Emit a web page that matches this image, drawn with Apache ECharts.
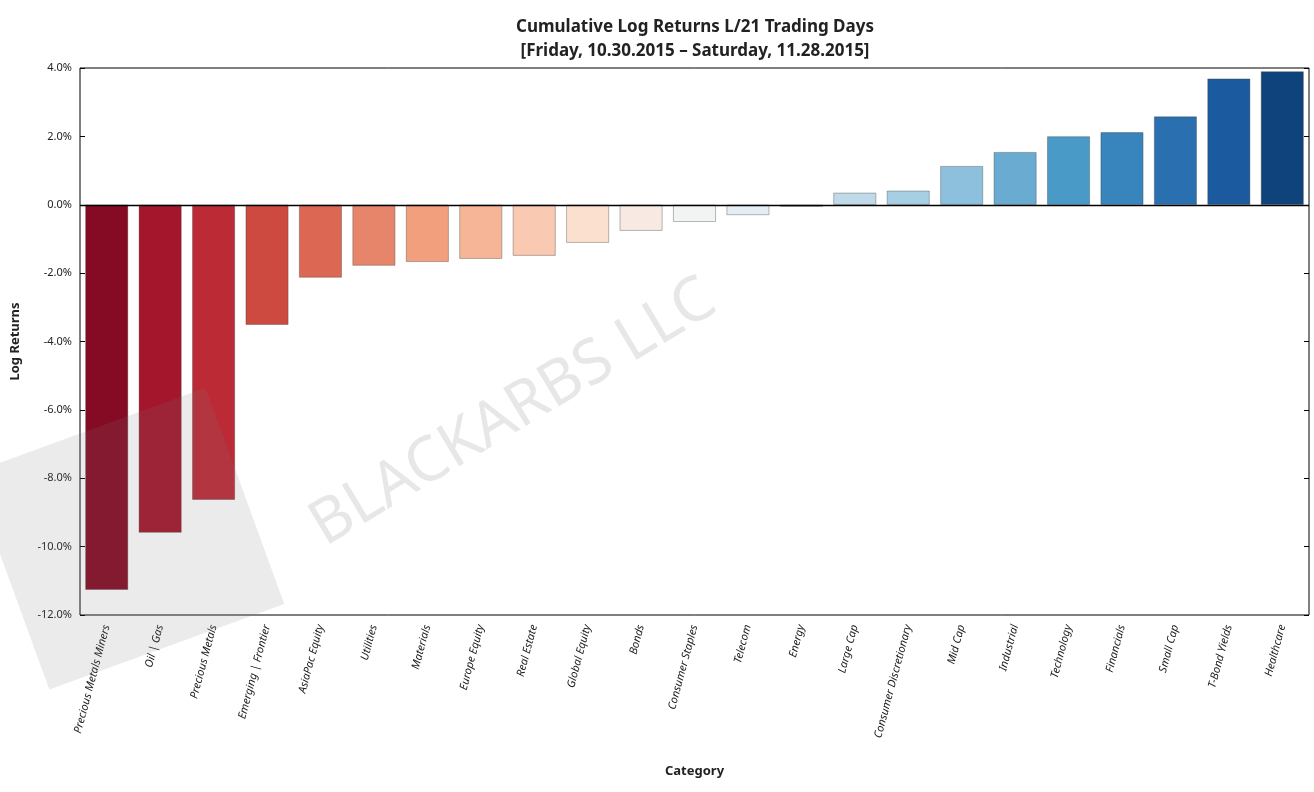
<!DOCTYPE html>
<html><head><meta charset="utf-8">
<script src="https://cdn.jsdelivr.net/npm/echarts@6/dist/echarts.min.js"></script>
<style>html,body{margin:0;padding:0;background:#fff}#c{width:1314px;height:792px}</style>
</head><body><div id="c"></div>
<script>
const categories = ["Precious Metals Miners","Oil | Gas","Precious Metals","Emerging | Frontier","AsiaPac Equity","Utilities","Materials","Europe Equity","Real Estate","Global Equity","Bonds","Consumer Staples","Telecom","Energy","Large Cap","Consumer Discretionary","Mid Cap","Industrial","Technology","Financials","Small Cap","T-Bond Yields","Healthcare"];
const values = [-11.26,-9.59,-8.63,-3.51,-2.13,-1.78,-1.67,-1.58,-1.49,-1.11,-0.76,-0.50,-0.30,-0.06,0.35,0.41,1.13,1.54,2.00,2.12,2.58,3.69,3.90];
const colors = ["#850a24","#a3162b","#bc2a35","#cc4a40","#dc6753","#e6856a","#f19f7c","#f6b596","#fac9b1","#fbdfcf","#f8e9e3","#f2f3f3","#e4eef4","#d5e5ef","#c0dae9","#a7cfe4","#8cc0dd","#6aabd1","#4a9ac7","#3785bc","#2a70b1","#1c5a9f","#0f437b"];
const yTicks = [-12,-10,-8,-6,-4,-2,0,2,4];
const F = "Noto Sans";
const chart = echarts.init(document.getElementById('c'));
chart.setOption({
  animation:false,
  title:{text:"Cumulative Log Returns L/21 Trading Days\n[Friday, 10.30.2015 – Saturday, 11.28.2015]",left:690,textAlign:'center',top:10,
    textStyle:{fontFamily:F,fontSize:17,fontWeight:'bold',color:'#222',lineHeight:24}},
  grid:{left:80,right:5,top:68,bottom:177,show:true,borderColor:'#000',borderWidth:1},
  xAxis:{type:'category',data:categories,name:'Category',nameLocation:'middle',nameGap:150,
    nameTextStyle:{fontFamily:F,fontSize:13,fontWeight:'bold',color:'#222'},
    axisLine:{show:false},axisTick:{show:false},
    axisLabel:{rotate:75,interval:0,fontFamily:F,fontSize:11,fontStyle:'italic',color:'#222',margin:10}},
  yAxis:[{type:'value',min:-12,max:4,interval:2,name:'Log Returns',nameLocation:'middle',nameGap:58,
    nameTextStyle:{fontFamily:F,fontSize:13,fontWeight:'bold',color:'#222'},
    splitLine:{show:false},axisLine:{show:false},axisTick:{show:true,inside:true,length:5,lineStyle:{color:'#000'}},
    axisLabel:{formatter:v=>v.toFixed(1)+'%',fontFamily:F,fontSize:11,color:'#222'}},
   {type:'value',min:-12,max:4,interval:2,position:'right',splitLine:{show:false},axisLine:{show:false},
    axisTick:{show:true,inside:true,length:5,lineStyle:{color:'#000'}},axisLabel:{show:false}}],
  graphic:[
    {type:'rect',rotation:Math.PI/180*20,x:30,y:510,origin:[150,100],shape:{x:0,y:-100,width:250,height:230},style:{fill:'rgba(120,120,120,0.15)'},z:100},
    {type:'text',x:300,y:505,rotation:Math.PI/180*31,style:{text:'BLACKARBS LLC',font:'62px "Noto Sans"',fill:'rgba(120,120,120,0.18)'},z:100}
  ],
  series:[{type:'bar',barCategoryGap:'20%',data:values.map((v,i)=>({value:v,itemStyle:{color:colors[i]}})),
    itemStyle:{borderColor:'rgba(60,60,60,0.6)',borderWidth:0.6},
    markLine:{silent:true,symbol:'none',label:{show:false},lineStyle:{color:'#000',width:1.3,type:'solid'},data:[{yAxis:0}]}}]
});
</script></body></html>
